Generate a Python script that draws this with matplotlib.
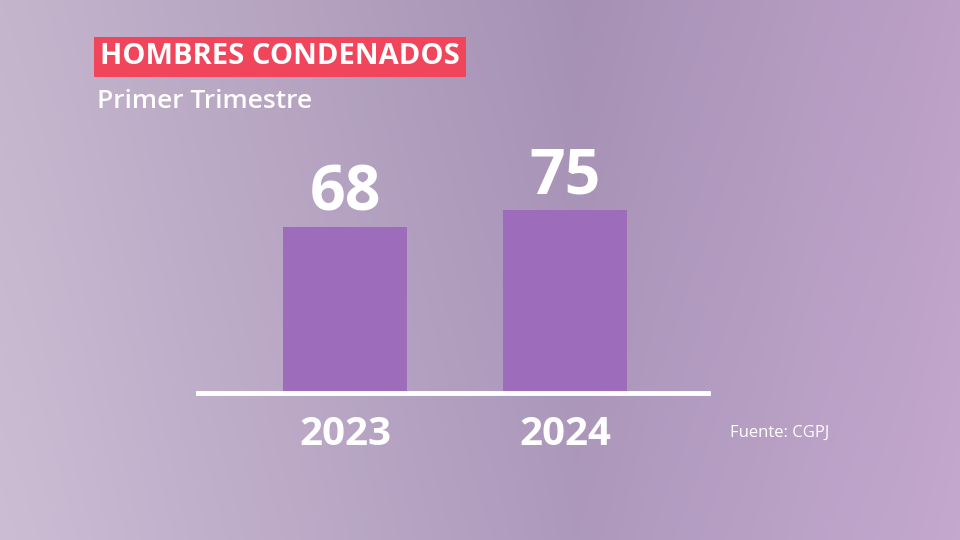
import numpy as np
import matplotlib.pyplot as plt

years = ["2023", "2024"]
values = [68, 75]

fig = plt.figure(figsize=(9.6, 5.4), dpi=100)

# background gradient
bg = fig.add_axes([0, 0, 1, 1])
xs = np.linspace(0, 1, 400)
ys = np.linspace(0, 1, 200)
X, Y = np.meshgrid(xs, ys)
left = np.array([0.80, 0.74, 0.83])
mid = np.array([0.68, 0.60, 0.74])
right = np.array([0.77, 0.66, 0.81])
t = np.clip(X / 0.6, 0, 1)[..., None]
t2 = np.clip((X - 0.6) / 0.4, 0, 1)[..., None]
img = left * (1 - t) + mid * t
img = img * (1 - t2) + right * t2
img = img - 0.03 * Y[..., None]
bg.imshow(np.clip(img, 0, 1), extent=[0, 1, 0, 1], aspect="auto", origin="lower")
bg.set_xlim(0, 1)
bg.set_ylim(0, 1)
bg.axis("off")

# bars
ax = fig.add_axes([198 / 960, 1 - 393 / 540, 510 / 960, 244 / 540])
ax.patch.set_alpha(0)
x = np.arange(len(years))
ax.bar(x, values, width=0.564, color="#9d6cba")
ax.set_xlim(-0.668, 1.65)
ax.set_ylim(0, 100)
ax.axis("off")
ax.axhline(0, color="white", lw=3.5, clip_on=False)
for xi, v, yr in zip(x, values, years):
    ax.text(xi, v + 0.5, str(v), ha="center", va="bottom", color="white",
            fontsize=45, fontweight="bold", family="Open Sans")
    ax.text(xi, -9, yr, ha="center", va="top", color="white",
            fontsize=29, fontweight="bold", family="Open Sans")

fig.text(100 / 960, 1 - 57 / 540, "HOMBRES CONDENADOS", color="white", fontsize=21,
         fontweight="bold", family="Open Sans", va="center", ha="left",
         bbox=dict(boxstyle="square,pad=0.2", fc="#f0455b", ec="none"))
fig.text(97 / 960, 1 - 101 / 540, "Primer Trimestre", color="white", fontsize=19,
         fontweight="semibold", family="Open Sans", va="center", ha="left")
fig.text(730 / 960, 1 - 433 / 540, "Fuente: CGPJ", color="white", fontsize=12,
         family="Open Sans", va="center", ha="left")

fig.savefig("out.png", dpi=100)
